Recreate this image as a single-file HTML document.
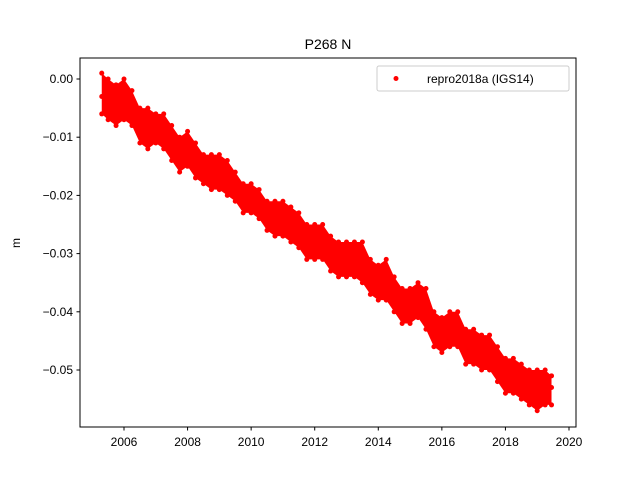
<!DOCTYPE html>
<html><head><meta charset="utf-8"><style>
body{margin:0;background:#fff;}
svg{display:block;font-family:"Liberation Sans","DejaVu Sans",sans-serif;}
</style></head><body>
<svg id="chart" width="640" height="480">
<rect width="640" height="480" fill="#fff"/>
<text x="328" y="49" font-size="14" text-anchor="middle">P268 N</text>
<text x="0" y="0" font-size="12" text-anchor="middle" transform="translate(20,243) rotate(-90)">m</text>
<g id="marks"></g>
<rect x="80" y="58" width="496" height="369" fill="none" stroke="#000" stroke-width="1"/>
<g id="axes"></g>
<g>
<rect x="377" y="66" width="192" height="25" rx="2" fill="#fff" fill-opacity="0.8" stroke="#ccc"/>
<circle cx="396" cy="78.5" r="2.5" fill="red"/>
<text x="427" y="83" font-size="12">repro2018a (IGS14)</text>
</g>
</svg>
<script>
const years=[2005.3,2005.5,2005.75,2006,2006.25,2006.5,2006.75,2007,2007.25,2007.5,2007.75,2008,2008.25,2008.5,2008.75,2009,2009.25,2009.5,2009.75,2010,2010.25,2010.5,2010.75,2011,2011.25,2011.5,2011.75,2012,2012.25,2012.5,2012.75,2013,2013.25,2013.5,2013.75,2014,2014.25,2014.5,2014.75,2015,2015.25,2015.5,2015.75,2016,2016.25,2016.5,2016.75,2017,2017.25,2017.5,2017.75,2018,2018.25,2018.5,2018.75,2019,2019.25,2019.45];
const centerVals=[-0.003,-0.003,-0.004,-0.003,-0.005,-0.008,-0.008,-0.008,-0.009,-0.011,-0.013,-0.012,-0.014,-0.015,-0.016,-0.016,-0.017,-0.018,-0.020,-0.020,-0.021,-0.023,-0.024,-0.024,-0.025,-0.026,-0.028,-0.028,-0.028,-0.030,-0.031,-0.031,-0.031,-0.032,-0.034,-0.035,-0.035,-0.037,-0.039,-0.039,-0.038,-0.040,-0.043,-0.044,-0.043,-0.043,-0.046,-0.046,-0.047,-0.047,-0.049,-0.051,-0.051,-0.052,-0.053,-0.053,-0.053,-0.053];
const lowVals=[-0.006,-0.007,-0.008,-0.007,-0.008,-0.011,-0.012,-0.011,-0.012,-0.014,-0.016,-0.015,-0.017,-0.018,-0.019,-0.019,-0.020,-0.021,-0.023,-0.023,-0.024,-0.026,-0.027,-0.027,-0.028,-0.029,-0.031,-0.031,-0.031,-0.033,-0.034,-0.034,-0.034,-0.035,-0.037,-0.038,-0.038,-0.040,-0.042,-0.042,-0.041,-0.043,-0.046,-0.047,-0.046,-0.046,-0.049,-0.049,-0.050,-0.050,-0.052,-0.054,-0.054,-0.055,-0.056,-0.057,-0.056,-0.056];
const highVals=[0.001,0.0,-0.001,0.0,-0.002,-0.005,-0.005,-0.006,-0.006,-0.008,-0.010,-0.009,-0.011,-0.013,-0.013,-0.013,-0.014,-0.016,-0.018,-0.018,-0.019,-0.021,-0.021,-0.021,-0.022,-0.023,-0.025,-0.025,-0.025,-0.027,-0.028,-0.028,-0.028,-0.028,-0.031,-0.032,-0.031,-0.034,-0.036,-0.036,-0.035,-0.036,-0.040,-0.041,-0.040,-0.040,-0.043,-0.043,-0.044,-0.044,-0.046,-0.048,-0.048,-0.049,-0.050,-0.050,-0.050,-0.051];
const xTicks=[2006,2008,2010,2012,2014,2016,2018,2020];
const yTicks=[0,-0.01,-0.02,-0.03,-0.04,-0.05];
const yTickLabels=["0.00","\u22120.01","\u22120.02","\u22120.03","\u22120.04","\u22120.05"];

const NS="http://www.w3.org/2000/svg";
function xs(v){return 124+(v-2006)*(445/14);}
function ys(v){return 79-v*5820;}
const marks=document.getElementById('marks'), axes=document.getElementById('axes');
let pathTop="",pathBot="";
for(let i=0;i<years.length;i++){pathTop+=(i?"L":"M")+xs(years[i])+","+ys(highVals[i]);}
for(let i=years.length-1;i>=0;i--){pathBot+="L"+xs(years[i])+","+ys(lowVals[i]);}
const band=document.createElementNS(NS,'path');
band.setAttribute('d',pathTop+pathBot+"Z");band.setAttribute('fill','red');


marks.appendChild(band);
for(let i=0;i<years.length;i++){
  [lowVals[i],centerVals[i],highVals[i]].forEach(v=>{
    const c=document.createElementNS(NS,'circle');
    c.setAttribute('cx',xs(years[i]));c.setAttribute('cy',ys(v));c.setAttribute('r',2.5);c.setAttribute('fill','red');
    
    
    marks.appendChild(c);
  });
}
xTicks.forEach(t=>{
  const x=xs(t);
  const l=document.createElementNS(NS,'line');
  l.setAttribute('x1',x);l.setAttribute('x2',x);l.setAttribute('y1',427);l.setAttribute('y2',430.5);l.setAttribute('stroke','#000');
  
  
  axes.appendChild(l);
  const tx=document.createElementNS(NS,'text');
  tx.setAttribute('x',x);tx.setAttribute('y',446);tx.setAttribute('font-size','12');tx.setAttribute('text-anchor','middle');
  tx.textContent=t;
  
  
  axes.appendChild(tx);
});
yTicks.forEach((t,i)=>{
  const y=ys(t);
  const l=document.createElementNS(NS,'line');
  l.setAttribute('x1',76.5);l.setAttribute('x2',80);l.setAttribute('y1',y);l.setAttribute('y2',y);l.setAttribute('stroke','#000');
  
  
  axes.appendChild(l);
  const tx=document.createElementNS(NS,'text');
  tx.setAttribute('x',73);tx.setAttribute('y',y+4);tx.setAttribute('font-size','12');tx.setAttribute('text-anchor','end');
  tx.textContent=yTickLabels[i];
  
  
  axes.appendChild(tx);
});
</script>
</body></html>
